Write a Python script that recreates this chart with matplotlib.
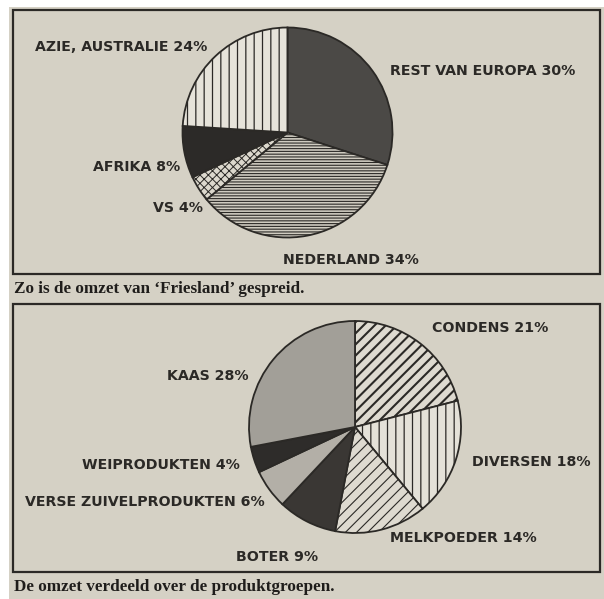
import matplotlib
matplotlib.use("Agg")
import matplotlib.pyplot as plt
from matplotlib.patches import Rectangle

# ---------------- data ----------------
regio_labels = ["REST VAN EUROPA 30%", "NEDERLAND 34%", "VS 4%", "AFRIKA 8%", "AZIE, AUSTRALIE 24%"]
regio_values = [30, 34, 4, 8, 24]

product_labels = ["CONDENS 21%", "DIVERSEN 18%", "MELKPOEDER 14%", "BOTER 9%",
                  "VERSE ZUIVELPRODUKTEN 6%", "WEIPRODUKTEN 4%", "KAAS 28%"]
product_values = [21, 18, 14, 9, 6, 4, 28]

caption_top = "Zo is de omzet van \u2018Friesland\u2019 gespreid."
caption_bottom = "De omzet verdeeld over de produktgroepen."

# ---------------- style ----------------
W, H = 604, 599
paper = "#d5d1c5"
ink = "#2b2926"
plt.rcParams["hatch.linewidth"] = 0.9
sans = ["Liberation Sans Narrow", "DejaVu Sans"]
serif = ["Liberation Serif", "DejaVu Serif"]

regio_colors = ["#4b4946", "#cfcbc0", "#dcd8cd", "#2c2a28", "#e6e3da"]
regio_hatch = [None, "------", "xxxx", None, "||"]
regio_hlw = [0.9, 0.8, 0.7, 0.9, 0.9]

product_colors = ["#dedad0", "#e4e1d8", "#dedad0", "#3a3734", "#b3afa7", "#2e2c2a", "#a29f98"]
product_hatch = ["///", "||", "///", None, None, None, None]
product_hlw = [1.5, 0.9, 0.8, 0.9, 0.9, 0.9, 0.9]

fig = plt.figure(figsize=(W / 100, H / 100), dpi=100, facecolor="white")


def px_rect(x0, y0, x1, y1, **kw):
    # rectangle in pixel coords (origin top-left)
    return Rectangle((x0 / W, 1 - y1 / H), (x1 - x0) / W, (y1 - y0) / H,
                     transform=fig.transFigure, **kw)


# paper background + frames
fig.patches.append(px_rect(9, 7, 604, 599, facecolor=paper, edgecolor="none", zorder=-5))
fig.patches.append(px_rect(13, 10, 600, 274, facecolor="none", edgecolor=ink, lw=1.6, zorder=1))
fig.patches.append(px_rect(13, 304, 600, 572, facecolor="none", edgecolor=ink, lw=1.6, zorder=1))


def draw_pie(cx, cy, r, values, colors, hatches, hlw):
    m = 1.05
    ax = fig.add_axes([(cx - r * m) / W, 1 - (cy + r * m) / H, 2 * r * m / W, 2 * r * m / H])
    ax.set_zorder(2)
    wedges, _ = ax.pie(values, colors=colors, startangle=90, counterclock=False,
                       wedgeprops=dict(edgecolor=ink, linewidth=1.3))
    for w, h, lw in zip(wedges, hatches, hlw):
        if h:
            w.set_hatch(h)
            if hasattr(w, "set_hatch_linewidth"):
                w.set_hatch_linewidth(lw)
    ax.set_xlim(-m, m)
    ax.set_ylim(-m, m)
    ax.set_aspect("auto")
    ax.axis("off")
    return ax


draw_pie(287.5, 132.5, 105, regio_values, regio_colors, regio_hatch, regio_hlw)
draw_pie(355, 427, 106, product_values, product_colors, product_hatch, product_hlw)

# label positions (pixel x of left edge, y of centre)
regio_pos = [(390, 71), (283, 260), (153, 208), (93, 167), (35, 47)]
product_pos = [(432, 328), (472, 462), (390, 538), (236, 557), (25, 502), (82, 465), (167, 376)]


def label(x, y, s):
    fig.text(x / W, 1 - y / H, s, family=sans, weight="bold", fontsize=10.2,
             color=ink, ha="left", va="center", zorder=3)


for s, (x, y) in zip(regio_labels, regio_pos):
    label(x, y, s)
for s, (x, y) in zip(product_labels, product_pos):
    label(x, y, s)

fig.text(14 / W, 1 - 289 / H, caption_top, family=serif, weight="bold", fontsize=12.3,
         color="#1f1d1b", ha="left", va="center")
fig.text(14 / W, 1 - 587 / H, caption_bottom, family=serif, weight="bold", fontsize=12.3,
         color="#1f1d1b", ha="left", va="center")

fig.savefig("out.png", dpi=100, facecolor="white")
